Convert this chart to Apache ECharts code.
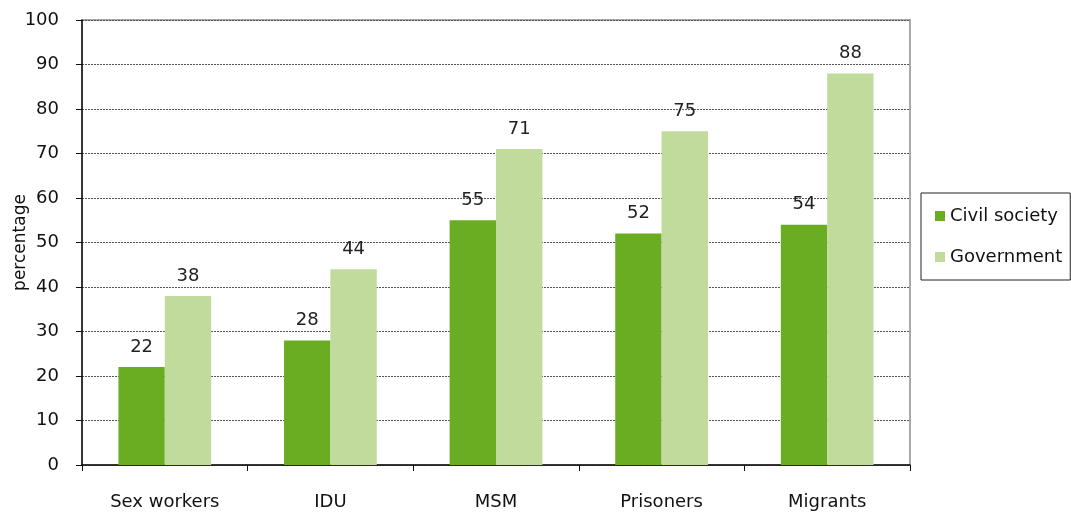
<!DOCTYPE html>
<html>
<head>
<meta charset="utf-8">
<script src="https://cdn.jsdelivr.net/npm/echarts@6/dist/echarts.min.js"></script>
<style>
  html, body { margin: 0; padding: 0; background: #fff; }
  #chart { width: 1071px; height: 514px; }
</style>
</head>
<body>
<div id="chart"></div>
<script>
const groups = ['Sex workers', 'IDU', 'MSM', 'Prisoners', 'Migrants']
const civilSociety = [22, 28, 55, 52, 54]
const government = [38, 44, 71, 75, 88]

const font = 'DejaVu Sans'
const chart = echarts.init(document.getElementById('chart'))

const barLabel = {
  show: true,
  position: 'top',
  distance: 11,
  fontFamily: font,
  fontSize: 18,
  color: '#222',
}

chart.setOption({
  animation: false,
  grid: {
    left: 82, right: 161, top: 20, bottom: 49,
    outerBoundsMode: 'none',
    show: true, borderColor: '#8c8c8c', borderWidth: 1.5,
  },
  legend: {
    orient: 'vertical',
    left: 921,
    top: 193,
    padding: [14, 8, 14, 14],
    itemGap: 23,
    itemWidth: 10,
    itemHeight: 10,
    borderColor: '#222',
    borderWidth: 1,
    icon: 'rect',
    textStyle: { fontFamily: font, fontSize: 18, color: '#111' },
    data: ['Civil society', 'Government'],
  },
  xAxis: {
    type: 'category',
    data: groups,
    axisLine: { lineStyle: { color: '#111', width: 1.5 } },
    axisTick: { show: true, length: 6, lineStyle: { color: '#111' } },
    axisLabel: { margin: 28, fontFamily: font, fontSize: 18, color: '#111' },
  },
  yAxis: {
    type: 'value',
    min: 0, max: 100, interval: 10,
    name: 'percentage',
    nameLocation: 'middle',
    nameGap: 53,
    nameMoveOverlap: false,
    nameTextStyle: { fontFamily: font, fontSize: 17, color: '#111' },
    axisLine: { show: true, lineStyle: { color: '#111', width: 1.5 } },
    axisTick: { show: true, length: 6, lineStyle: { color: '#111' } },
    axisLabel: { margin: 23, fontFamily: font, fontSize: 18, color: '#111' },
    splitLine: { lineStyle: { color: '#555', type: [2, 1], width: 1 } },
  },
  series: [
    {
      name: 'Civil society',
      type: 'bar',
      data: civilSociety,
      barGap: 0,
      barCategoryGap: '44%',
      itemStyle: { color: '#6aad23' },
      label: barLabel,
    },
    {
      name: 'Government',
      type: 'bar',
      data: government,
      itemStyle: { color: '#c0db9c' },
      label: barLabel,
    },
  ],
})
</script>
</body>
</html>
